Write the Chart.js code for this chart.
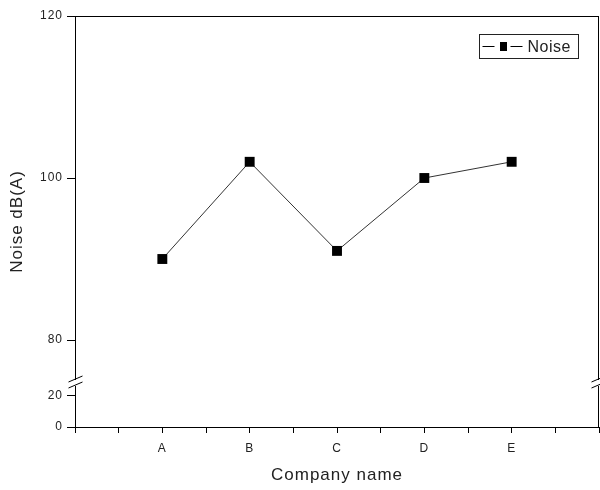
<!DOCTYPE html>
<html>
<head>
<meta charset="utf-8">
<script src="https://cdn.jsdelivr.net/npm/chart.js@4/dist/chart.umd.min.js"></script>
<style>
  html, body { margin: 0; padding: 0; background: #fff; }
  #wrap { width: 600px; height: 490px; }
</style>
</head>
<body>
<div id="wrap"><canvas id="noise-chart" width="600" height="490"></canvas></div>
<script>
const categories = ['A', 'B', 'C', 'D', 'E'];
const noise = [90, 102, 91, 100, 102];
const yTicks = [0, 20, 80, 100, 120];

// broken y axis: 0-20 squeezed below, 80-120 at full scale
const LOW_BASE = 69.26;
const LOW_SCALE = 0.1915;
function toAxis(v) {
    return v >= 80 ? v : LOW_BASE + v * LOW_SCALE;
}
const BREAK_AT = 74.7;

const spacingPlugin = {
    id: 'spacing',
    beforeLayout(chart) { chart.ctx.letterSpacing = '1px'; },
    beforeDraw(chart) { chart.ctx.letterSpacing = '1px'; }
};

const framePlugin = {
    id: 'frame',
    afterDraw(chart) {
        const {ctx, chartArea: a} = chart;
        const y = chart.scales.y;
        ctx.save();
        ctx.strokeStyle = '#000';
        ctx.lineWidth = 1;
        ctx.strokeRect(a.left + 0.5, a.top + 0.5, a.right - a.left - 1, a.bottom - a.top);
        // axis break marks
        const by = Math.round(y.getPixelForValue(BREAK_AT));
        [a.left + 0.5, a.right - 0.5].forEach(x => {
            ctx.fillStyle = '#fff';
            ctx.fillRect(x - 2, by - 3, 4, 6);
            ctx.strokeStyle = '#000';
            ctx.beginPath();
            ctx.moveTo(x - 7, by - 1); ctx.lineTo(x + 7, by - 7);
            ctx.moveTo(x - 7, by + 5); ctx.lineTo(x + 7, by - 1);
            ctx.stroke();
        });
        // legend: line - square - line, label
        const ds = chart.data.datasets[0];
        const bx = Math.round(a.right) - 119.5, byy = Math.round(a.top) + 18.5, bw = 99, bh = 24;
        ctx.strokeStyle = '#222';
        ctx.strokeRect(bx, byy, bw, bh);
        const my = byy + 12;
        ctx.strokeStyle = '#000';
        ctx.beginPath();
        ctx.moveTo(bx + 3, my); ctx.lineTo(bx + 15, my);
        ctx.moveTo(bx + 31, my); ctx.lineTo(bx + 43, my);
        ctx.stroke();
        ctx.fillStyle = '#000';
        ctx.fillRect(bx + 20.5, my - 4.5, 7, 9);
        ctx.fillStyle = '#222';
        ctx.font = '16px "Liberation Sans"';
        ctx.letterSpacing = '0.5px';
        ctx.textBaseline = 'middle';
        ctx.textAlign = 'left';
        ctx.fillText(ds.label, bx + 48, my + 1);
        ctx.restore();
    }
};

new Chart(document.getElementById('noise-chart'), {
    type: 'line',
    data: {
        datasets: [{
            label: 'Noise',
            data: noise.map((v, i) => ({x: i + 1, y: toAxis(v)})),
            borderColor: '#333',
            borderWidth: 1,
            pointStyle: 'rect',
            pointRadius: 7,
            pointBackgroundColor: '#000',
            pointBorderColor: '#000',
            pointBorderWidth: 0,
            tension: 0
        }]
    },
    options: {
        responsive: false,
        animation: false,
        layout: {autoPadding: false, padding: {top: 16, right: 1, left: 0, bottom: 0}},
        plugins: {
            legend: {display: false},
            tooltip: {enabled: false}
        },
        scales: {
            x: {
                type: 'linear',
                min: 0,
                max: categories.length + 1,
                afterBuildTicks(scale) {
                    const t = [];
                    for (let v = 0; v <= categories.length + 1; v += 0.5) t.push({value: v});
                    scale.ticks = t;
                },
                afterFit(scale) {
                    scale.height = 63;
                    scale.paddingLeft = 0;
                    scale.paddingRight = 0;
                },
                grid: {drawOnChartArea: false, color: '#000', tickLength: 6},
                border: {color: '#000'},
                ticks: {
                    autoSkip: false,
                    maxRotation: 0,
                    color: '#222',
                    padding: 8,
                    font: {family: 'Liberation Sans', size: 12},
                    callback: v => (Number.isInteger(v) && categories[v - 1]) || ''
                },
                title: {
                    display: true,
                    text: 'Company name',
                    color: '#222',
                    padding: {top: 14},
                    font: {family: 'Liberation Sans', size: 17}
                }
            },
            y: {
                min: toAxis(0),
                max: 120,
                afterBuildTicks(scale) {
                    scale.ticks = yTicks.map(v => ({value: toAxis(v)}));
                },
                afterFit(scale) { scale.width = 75; },
                grid: {drawOnChartArea: false, color: '#000', tickLength: 8},
                border: {color: '#000'},
                ticks: {
                    color: '#222',
                    padding: 4,
                    font: {family: 'Liberation Sans', size: 12},
                    callback: value => {
                        const v = yTicks.find(t => Math.abs(toAxis(t) - value) < 0.01);
                        return v === undefined ? '' : String(v);
                    }
                },
                title: {
                    display: true,
                    text: 'Noise dB(A)',
                    color: '#222',
                    padding: {top: 7, bottom: 0},
                    font: {family: 'Liberation Sans', size: 17}
                }
            }
        }
    },
    plugins: [spacingPlugin, framePlugin]
});
</script>
</body>
</html>
